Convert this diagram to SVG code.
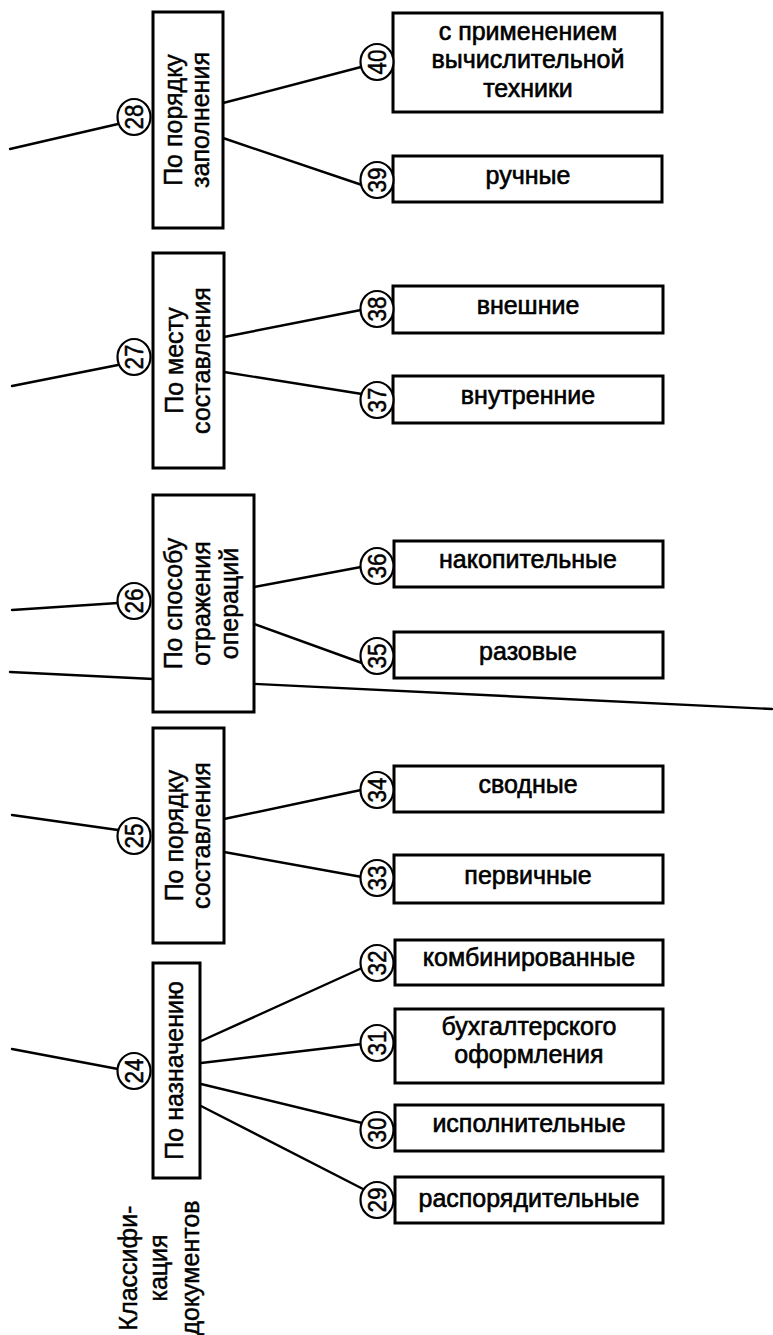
<svg xmlns="http://www.w3.org/2000/svg" width="773" height="1335" viewBox="0 0 773 1335">
<style>
.box{fill:#fff;stroke:#000;stroke-width:3}
.num{fill:#fff;stroke:#000;stroke-width:2.2}
.conn line{stroke:#000;stroke-width:2.4;stroke-linecap:round}
text{font-family:"Liberation Sans",Arial,sans-serif;font-size:25px;fill:#000;text-anchor:middle;stroke:#000;stroke-width:0.45}
.r{stroke-width:0.6}
.n{font-size:26px;stroke-width:0.5}
</style>
<rect width="773" height="1335" fill="#fff"/>
<g id="connectors" class="conn">
<line x1="10" y1="149" x2="118" y2="124"/>
<line x1="223" y1="103" x2="361" y2="67"/>
<line x1="223" y1="138" x2="362" y2="185"/>
<line x1="12" y1="386" x2="118" y2="365"/>
<line x1="224" y1="337" x2="361" y2="310"/>
<line x1="224" y1="372" x2="362" y2="394"/>
<line x1="12" y1="610" x2="118" y2="603"/>
<line x1="10" y1="672" x2="772" y2="709"/>
<line x1="254" y1="587" x2="361" y2="567"/>
<line x1="254" y1="624" x2="362" y2="663"/>
<line x1="12" y1="815" x2="118" y2="830"/>
<line x1="224" y1="819" x2="361" y2="790"/>
<line x1="224" y1="852" x2="362" y2="877"/>
<line x1="12" y1="1049" x2="118" y2="1069"/>
<line x1="201" y1="1041" x2="362" y2="968"/>
<line x1="201" y1="1063" x2="362" y2="1044"/>
<line x1="201" y1="1084" x2="362" y2="1123"/>
<line x1="201" y1="1106" x2="365" y2="1190"/>
</g>
<g id="title">
<g transform="translate(0,1268) rotate(-90)">
<text x="0" y="137">Классифи-</text>
<text x="0" y="167">кация</text>
<text x="0" y="199">документов</text>
</g>
</g>
<g id="n28">
<rect class="box" x="153" y="12" width="70" height="216"/>
<g transform="translate(188,120) rotate(-90)"><text y="-6">По порядку</text><text y="21">заполнения</text></g>
<ellipse class="num" cx="134" cy="117" rx="16.5" ry="18"/>
<text class="n" transform="translate(134,117) rotate(-90)" y="9" textLength="25" lengthAdjust="spacingAndGlyphs">28</text>
</g>
<g id="n40">
<rect class="box" x="393" y="13" width="269" height="99"/>
<text class="r" x="528" y="40">с применением</text>
<text class="r" x="528" y="68">вычислительной</text>
<text class="r" x="528" y="97">техники</text>
<ellipse class="num" cx="377" cy="62" rx="16.5" ry="18"/>
<text class="n" transform="translate(377,62) rotate(-90)" y="9" textLength="25" lengthAdjust="spacingAndGlyphs">40</text>
</g>
<g id="n39">
<rect class="box" x="393" y="156" width="269" height="46"/>
<text class="r" x="528" y="184">ручные</text>
<ellipse class="num" cx="377" cy="180" rx="16.5" ry="18"/>
<text class="n" transform="translate(377,180) rotate(-90)" y="9" textLength="25" lengthAdjust="spacingAndGlyphs">39</text>
</g>
<g id="n27">
<rect class="box" x="153" y="253" width="71" height="215"/>
<g transform="translate(188.5,360.5) rotate(-90)"><text y="-5.5">По месту</text><text y="21.5">составления</text></g>
<ellipse class="num" cx="134" cy="357" rx="16.5" ry="18"/>
<text class="n" transform="translate(134,357) rotate(-90)" y="9" textLength="25" lengthAdjust="spacingAndGlyphs">27</text>
</g>
<g id="n38">
<rect class="box" x="393" y="286" width="270" height="47"/>
<text class="r" x="528" y="314">внешние</text>
<ellipse class="num" cx="377" cy="309" rx="16.5" ry="18"/>
<text class="n" transform="translate(377,309) rotate(-90)" y="9" textLength="25" lengthAdjust="spacingAndGlyphs">38</text>
</g>
<g id="n37">
<rect class="box" x="393" y="376" width="270" height="47"/>
<text class="r" x="528" y="404">внутренние</text>
<ellipse class="num" cx="377" cy="400" rx="16.5" ry="18"/>
<text class="n" transform="translate(377,400) rotate(-90)" y="9" textLength="25" lengthAdjust="spacingAndGlyphs">37</text>
</g>
<g id="n26">
<rect class="box" x="153" y="495" width="101" height="217"/>
<g transform="translate(203.5,603.5) rotate(-90)"><text y="-21.5">По способу</text><text y="6.5">отражения</text><text y="34">операций</text></g>
<ellipse class="num" cx="134" cy="601" rx="16.5" ry="18"/>
<text class="n" transform="translate(134,601) rotate(-90)" y="9" textLength="25" lengthAdjust="spacingAndGlyphs">26</text>
</g>
<g id="n36">
<rect class="box" x="394" y="541" width="269" height="46"/>
<text class="r" x="528" y="568">накопительные</text>
<ellipse class="num" cx="377" cy="566" rx="16.5" ry="18"/>
<text class="n" transform="translate(377,566) rotate(-90)" y="9" textLength="25" lengthAdjust="spacingAndGlyphs">36</text>
</g>
<g id="n35">
<rect class="box" x="394" y="632" width="269" height="46"/>
<text class="r" x="528" y="660">разовые</text>
<ellipse class="num" cx="377" cy="656" rx="16.5" ry="18"/>
<text class="n" transform="translate(377,656) rotate(-90)" y="9" textLength="25" lengthAdjust="spacingAndGlyphs">35</text>
</g>
<g id="n25">
<rect class="box" x="153" y="728" width="71" height="215"/>
<g transform="translate(188.5,835.5) rotate(-90)"><text y="-5.5">По порядку</text><text y="21.5">составления</text></g>
<ellipse class="num" cx="134" cy="836" rx="16.5" ry="18"/>
<text class="n" transform="translate(134,836) rotate(-90)" y="9" textLength="25" lengthAdjust="spacingAndGlyphs">25</text>
</g>
<g id="n34">
<rect class="box" x="394" y="766" width="269" height="46"/>
<text class="r" x="528" y="793">сводные</text>
<ellipse class="num" cx="377" cy="790" rx="16.5" ry="18"/>
<text class="n" transform="translate(377,790) rotate(-90)" y="9" textLength="25" lengthAdjust="spacingAndGlyphs">34</text>
</g>
<g id="n33">
<rect class="box" x="394" y="855" width="269" height="48"/>
<text class="r" x="528" y="884">первичные</text>
<ellipse class="num" cx="377" cy="878" rx="16.5" ry="18"/>
<text class="n" transform="translate(377,878) rotate(-90)" y="9" textLength="25" lengthAdjust="spacingAndGlyphs">33</text>
</g>
<g id="n24">
<rect class="box" x="153" y="963" width="47" height="215"/>
<g transform="translate(176.5,1070.5) rotate(-90)"><text y="6.5">По назначению</text></g>
<ellipse class="num" cx="134" cy="1071" rx="16.5" ry="18"/>
<text class="n" transform="translate(134,1071) rotate(-90)" y="9" textLength="25" lengthAdjust="spacingAndGlyphs">24</text>
</g>
<g id="n32">
<rect class="box" x="395" y="940" width="268" height="45"/>
<text class="r" x="529" y="966">комбинированные</text>
<ellipse class="num" cx="377" cy="963" rx="16.5" ry="18"/>
<text class="n" transform="translate(377,963) rotate(-90)" y="9" textLength="25" lengthAdjust="spacingAndGlyphs">32</text>
</g>
<g id="n31">
<rect class="box" x="395" y="1009" width="268" height="74"/>
<text class="r" x="529" y="1035">бухгалтерского</text>
<text class="r" x="529" y="1063">оформления</text>
<ellipse class="num" cx="377" cy="1043" rx="16.5" ry="18"/>
<text class="n" transform="translate(377,1043) rotate(-90)" y="9" textLength="25" lengthAdjust="spacingAndGlyphs">31</text>
</g>
<g id="n30">
<rect class="box" x="395" y="1105" width="268" height="46"/>
<text class="r" x="529" y="1132">исполнительные</text>
<ellipse class="num" cx="377" cy="1130" rx="16.5" ry="18"/>
<text class="n" transform="translate(377,1130) rotate(-90)" y="9" textLength="25" lengthAdjust="spacingAndGlyphs">30</text>
</g>
<g id="n29">
<rect class="box" x="395" y="1177" width="268" height="46"/>
<text class="r" x="529" y="1207">распорядительные</text>
<ellipse class="num" cx="377" cy="1200" rx="16.5" ry="18"/>
<text class="n" transform="translate(377,1200) rotate(-90)" y="9" textLength="25" lengthAdjust="spacingAndGlyphs">29</text>
</g>
</svg>
